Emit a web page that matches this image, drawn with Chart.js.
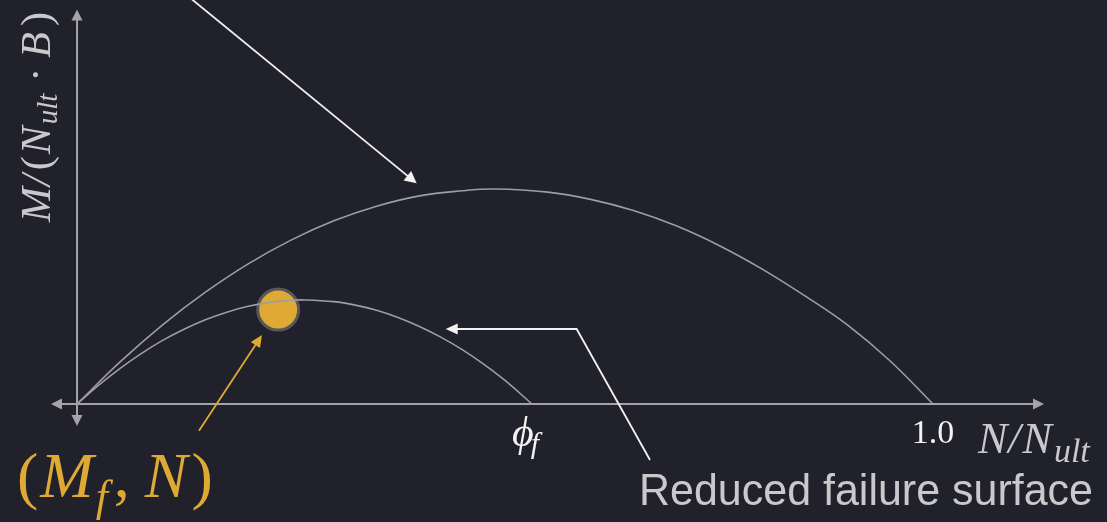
<!DOCTYPE html>
<html>
<head>
<meta charset="utf-8">
<script src="https://cdn.jsdelivr.net/npm/chart.js@4.4.1/dist/chart.umd.min.js"></script>
<style>
  html, body { margin: 0; padding: 0; background: #21212b; }
  #wrap { width: 1107px; height: 522px; position: relative; }
</style>
</head>
<body>
<div id="wrap"><canvas id="c"></canvas></div>
<script>
// Failure surface: normalised moment M/(N_ult·B) against axial load N/N_ult
const outerN = [0, 0.05, 0.1, 0.15, 0.2, 0.25, 0.3, 0.35, 0.4, 0.45, 0.488, 0.55, 0.6, 0.65, 0.7, 0.75, 0.8, 0.85, 0.9, 0.95, 1.0];
const outerM = [0, 0.0243, 0.046, 0.065, 0.0815, 0.0953, 0.1065, 0.115, 0.121, 0.124, 0.125, 0.1232, 0.119, 0.1125, 0.1036, 0.0922, 0.0786, 0.063, 0.046, 0.025, 0];

// Reduced failure surface, closing at N/N_ult = phi_f
const innerN = [0, 0.025, 0.05, 0.075, 0.1, 0.125, 0.15, 0.175, 0.2, 0.225, 0.25, 0.266, 0.3, 0.325, 0.35, 0.375, 0.4, 0.425, 0.45, 0.475, 0.5, 0.5315];
const innerM = [0, 0.0108, 0.0206, 0.0293, 0.037, 0.0435, 0.049, 0.0534, 0.0568, 0.0591, 0.0603, 0.0605, 0.0595, 0.0575, 0.0545, 0.0503, 0.0451, 0.0389, 0.0316, 0.0232, 0.0137, 0];

// Current load state (M_f, N)
const stateN = [0.235];
const stateM = [0.0549];

// Marked positions on the load axis
const tickN = [0.5315, 1.0];
const tickMain = ['\u03D5', '1.0'];
const tickSub = ['f', ''];

const GOLD = '#dfaa33';
const AXIS = '#a4a4a8';
const CURVE = '#9d9da2';
const LABEL = '#c9c9cb';
const WHITE = '#f2f2f2';

const pts = (xs, ys) => xs.map((x, i) => ({ x, y: ys[i] }));

function arrow(ctx, path, color, width, headLen, headW) {
  const n = path.length;
  const [tx, ty] = path[n - 1];
  const [px, py] = path[n - 2];
  const ang = Math.atan2(ty - py, tx - px);
  const bx = tx - headLen * Math.cos(ang), by = ty - headLen * Math.sin(ang);
  ctx.save();
  ctx.strokeStyle = color;
  ctx.fillStyle = color;
  ctx.lineWidth = width;
  ctx.lineJoin = 'miter';
  ctx.beginPath();
  ctx.moveTo(path[0][0], path[0][1]);
  for (let i = 1; i < n - 1; i++) ctx.lineTo(path[i][0], path[i][1]);
  ctx.lineTo(bx + Math.cos(ang), by + Math.sin(ang));
  ctx.stroke();
  ctx.beginPath();
  ctx.moveTo(tx, ty);
  ctx.lineTo(bx + headW / 2 * Math.sin(ang), by - headW / 2 * Math.cos(ang));
  ctx.lineTo(bx - headW / 2 * Math.sin(ang), by + headW / 2 * Math.cos(ang));
  ctx.closePath();
  ctx.fill();
  ctx.restore();
}

// parts: [text, font, dy, gapBefore]
function rich(ctx, x, y, parts, color) {
  ctx.save();
  ctx.fillStyle = color;
  ctx.textBaseline = 'alphabetic';
  ctx.textAlign = 'left';
  let cx = x;
  for (const [t, f, dy, gap] of parts) {
    cx += gap || 0;
    ctx.font = f;
    ctx.fillText(t, cx, y + (dy || 0));
    cx += ctx.measureText(t).width;
  }
  ctx.restore();
}

const SERIF = '"Liberation Serif"';
const it = s => 'italic ' + s + 'px ' + SERIF;
const up = s => s + 'px ' + SERIF;

const axesPlugin = {
  id: 'axesArrows',
  beforeDatasetsDraw(chart) {
    const { ctx, scales: { x, y }, chartArea: a } = chart;
    const ox = x.getPixelForValue(0), oy = y.getPixelForValue(0);
    arrow(ctx, [[ox, oy], [a.right, oy]], AXIS, 2, 11, 11);
    arrow(ctx, [[ox, oy], [a.left, oy]], AXIS, 2, 11, 11);
    arrow(ctx, [[ox, oy], [ox, a.top]], AXIS, 2, 11, 11);
    arrow(ctx, [[ox, oy], [ox, a.bottom]], AXIS, 2, 11, 11);
  }
};

const notesPlugin = {
  id: 'notes',
  afterDatasetsDraw(chart) {
    const { ctx, scales: { x, y } } = chart;
    const P = (n, m) => [x.getPixelForValue(n), y.getPixelForValue(m)];

    // pointers
    arrow(ctx, [P(0.121, 0.2407), P(0.3968, 0.1283)], WHITE, 1.8, 12, 12);
    arrow(ctx, [P(0.6694, -0.0326), P(0.5837, 0.0436), P(0.4307, 0.0436)], WHITE, 1.8, 12, 11);
    arrow(ctx, [P(0.1425, -0.0155), P(0.2161, 0.0401)], GOLD, 1.8, 12, 11);

    // axis marks
    tickN.forEach((n, i) => {
      const px = x.getPixelForValue(n);
      if (tickSub[i]) {
        rich(ctx, px - 20, 446, [[tickMain[i], it(42), 0, 0], [tickSub[i], it(30), 7, -3]], WHITE);
      } else {
        ctx.save();
        ctx.font = up(34);
        ctx.fillStyle = WHITE;
        ctx.textAlign = 'center';
        ctx.fillText(tickMain[i], px, 443);
        ctx.restore();
      }
    });

    // axis titles
    rich(ctx, 978, 453, [['N', it(44), 0, 0], ['/', it(44), 0, 1], ['N', it(44), 0, 2], ['ult', it(34), 9, 2]], LABEL);

    ctx.save();
    ctx.translate(50, 222);
    ctx.rotate(-Math.PI / 2);
    rich(ctx, 0, 0, [
      ['M', it(42), 0, 0], ['/', it(42), 0, 1], ['(', up(42), 0, 4], ['N', it(42), 0, 2],
      ['ult', it(29), 7, 2], ['\u00B7', up(42), 0, 12], ['B', it(42), 0, 10], [')', up(42), 0, 6]
    ], LABEL);
    ctx.restore();

    // state label
    rich(ctx, 17, 497, [
      ['(', up(64), 0, 0], ['M', it(64), 0, 2], ['f', it(44), 14, 2], [',', up(64), 0, 6],
      ['N', it(64), 0, 15], [')', up(64), 0, 4]
    ], GOLD);

    ctx.save();
    ctx.font = '45px "Liberation Sans"';
    ctx.fillStyle = LABEL;
    ctx.textBaseline = 'alphabetic';
    const txt = 'Reduced failure surface';
    const w = ctx.measureText(txt).width;
    ctx.translate(639, 505);
    ctx.scale(454 / w, 1);
    ctx.fillText(txt, 0, 0);
    ctx.restore();
  }
};

new Chart(document.getElementById('c'), {
  type: 'scatter',
  data: {
    datasets: [
      { data: pts(outerN, outerM), showLine: true, borderColor: CURVE, borderWidth: 1.6, pointRadius: 0, tension: 0.4 },
      { data: pts(innerN, innerM), showLine: true, borderColor: CURVE, borderWidth: 1.6, pointRadius: 0, tension: 0.4 },
      { data: pts(stateN, stateM), showLine: false, pointRadius: 20.5, pointBackgroundColor: GOLD, pointBorderColor: '#57575b', pointBorderWidth: 3 }
    ]
  },
  options: {
    responsive: true,
    maintainAspectRatio: false,
    animation: false,
    events: [],
    layout: { autoPadding: false, padding: { left: 51, right: 63, top: 9.5, bottom: 96 } },
    scales: {
      x: { type: 'linear', min: -0.0304, max: 1.1297, display: false },
      y: { type: 'linear', min: -0.0128, max: 0.2294, display: false }
    },
    plugins: { legend: { display: false }, tooltip: { enabled: false } }
  },
  plugins: [axesPlugin, notesPlugin]
});
</script>
</body>
</html>
